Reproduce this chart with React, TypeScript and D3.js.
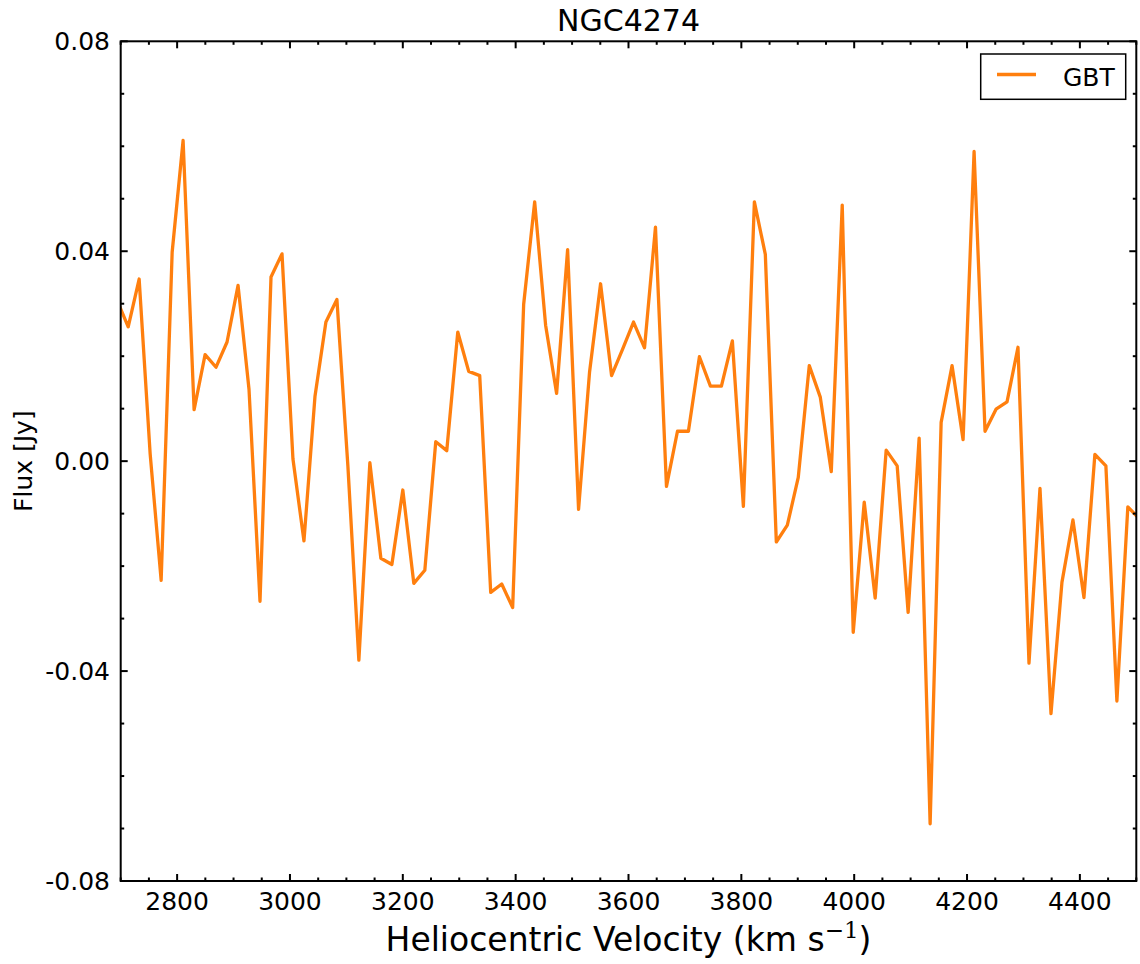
import React from "react";
import * as d3 from "d3";

const title = "NGC4274";
const seriesName = "GBT";

const velocity = [
  2693.8, 2713.3, 2732.7, 2752.2, 2771.7, 2791.2, 2810.6, 2830.1, 2849.6, 2869.0,
  2888.5, 2908.0, 2927.4, 2946.9, 2966.4, 2985.9, 3005.3, 3024.8, 3044.3, 3063.7,
  3083.2, 3102.7, 3122.1, 3141.6, 3161.1, 3180.6, 3200.0, 3219.5, 3239.0, 3258.4,
  3277.9, 3297.4, 3316.8, 3336.3, 3355.8, 3375.3, 3394.7, 3414.2, 3433.7, 3453.1,
  3472.6, 3492.1, 3511.5, 3531.0, 3550.5, 3570.0, 3589.4, 3608.9, 3628.4, 3647.8,
  3667.3, 3686.8, 3706.2, 3725.7, 3745.2, 3764.7, 3784.1, 3803.6, 3823.1, 3842.5,
  3862.0, 3881.5, 3900.9, 3920.4, 3939.9, 3959.4, 3978.8, 3998.3, 4017.8, 4037.2,
  4056.7, 4076.2, 4095.6, 4115.1, 4134.6, 4154.1, 4173.5, 4193.0, 4212.5, 4231.9,
  4251.4, 4270.9, 4290.3, 4309.8, 4329.3, 4348.8, 4368.2, 4387.7, 4407.2, 4426.6,
  4446.1, 4465.6, 4485.0, 4504.5,
];

const flux = [
  0.0306, 0.0256, 0.0347, 0.0014, -0.0227, 0.0398, 0.0611, 0.0098, 0.0203, 0.0179,
  0.0227, 0.0335, 0.0137, -0.0267, 0.0351, 0.0395, 0.0004, -0.0152, 0.0123, 0.0265,
  0.0308, -0.001, -0.0379, -0.0003, -0.0185, -0.0197, -0.0055, -0.0233, -0.0208, 0.0037,
  0.002, 0.0246, 0.0171, 0.0163, -0.025, -0.0234, -0.0279, 0.0299, 0.0494, 0.0259,
  0.0129, 0.0403, -0.0092, 0.017, 0.0338, 0.0163, 0.0213, 0.0265, 0.0216, 0.0446,
  -0.0048, 0.0057, 0.0057, 0.0199, 0.0143, 0.0143, 0.0229, -0.0086, 0.0494, 0.0394,
  -0.0154, -0.0122, -0.0031, 0.0182, 0.0122, -0.002, 0.0488, -0.0326, -0.0078, -0.0261,
  0.0021, -0.0009, -0.0288, 0.0044, -0.0691, 0.0074, 0.0182, 0.0041, 0.059, 0.0057,
  0.0099, 0.0113, 0.0217, -0.0385, -0.0052, -0.0481, -0.0231, -0.0112, -0.026, 0.0013,
  -0.0009, -0.0457, -0.0087, -0.0109,
];

const xMajorTicks = [2800, 3000, 3200, 3400, 3600, 3800, 4000, 4200, 4400];
const xMinorTicks = [
  2700, 2750, 2850, 2900, 2950, 3050, 3100, 3150, 3250, 3300, 3350, 3450, 3500, 3550,
  3650, 3700, 3750, 3850, 3900, 3950, 4050, 4100, 4150, 4250, 4300, 4350, 4450, 4500,
];
const yMajorTicks = [-0.08, -0.04, 0, 0.04, 0.08];
const yTickLabels = ["-0.08", "-0.04", "0.00", "0.04", "0.08"];
const yMinorTicks = [
  -0.07, -0.06, -0.05, -0.03, -0.02, -0.01, 0.01, 0.02, 0.03, 0.05, 0.06, 0.07,
];

const W = 1140;
const H = 964;
const L = 120.7;
const R = 1136.3;
const T = 41.3;
const B = 881;
const FONT = "DejaVu Sans, Verdana, sans-serif";
const ORANGE = "#ff7f0e";

export default function App() {
  const x = d3.scaleLinear().domain([2700, 4500]).range([L, R]);
  const y = d3.scaleLinear().domain([-0.08, 0.08]).range([B, T]);
  const pts = velocity.map((v, i) => [v, flux[i]] as [number, number]);
  const line = d3
    .line<[number, number]>()
    .x((d) => x(d[0]))
    .y((d) => y(d[1]));

  const majLen = 7;
  const minLen = 3.5;

  return (
    <svg
      width={W}
      height={H}
      style={{ position: "absolute", left: 0, top: 0, background: "#fff" }}
      fontFamily={FONT}
    >
      <defs>
        <clipPath id="plotclip">
          <rect x={L} y={T} width={R - L} height={B - T} />
        </clipPath>
      </defs>
      <rect x={0} y={0} width={W} height={H} fill="#fff" />
      <path
        d={line(pts) || ""}
        fill="none"
        stroke={ORANGE}
        strokeWidth={3.3}
        strokeLinejoin="round"
        strokeLinecap="round"
        clipPath="url(#plotclip)"
      />
      {/* ticks */}
      <g stroke="#000" strokeWidth={2}>
        {xMajorTicks.map((t) => (
          <g key={"xm" + t}>
            <line x1={x(t)} x2={x(t)} y1={B} y2={B - majLen} />
            <line x1={x(t)} x2={x(t)} y1={T} y2={T + majLen} />
          </g>
        ))}
        {xMinorTicks.map((t) => (
          <g key={"xn" + t}>
            <line x1={x(t)} x2={x(t)} y1={B} y2={B - minLen} />
            <line x1={x(t)} x2={x(t)} y1={T} y2={T + minLen} />
          </g>
        ))}
        {yMajorTicks.map((t) => (
          <g key={"ym" + t}>
            <line x1={L} x2={L + majLen} y1={y(t)} y2={y(t)} />
            <line x1={R} x2={R - majLen} y1={y(t)} y2={y(t)} />
          </g>
        ))}
        {yMinorTicks.map((t) => (
          <g key={"yn" + t}>
            <line x1={L} x2={L + minLen} y1={y(t)} y2={y(t)} />
            <line x1={R} x2={R - minLen} y1={y(t)} y2={y(t)} />
          </g>
        ))}
      </g>
      <rect
        x={L}
        y={T}
        width={R - L}
        height={B - T}
        fill="none"
        stroke="#000"
        strokeWidth={2}
      />
      {/* tick labels */}
      <g fontSize={25} fill="#000">
        {xMajorTicks.map((t) => (
          <text key={"xl" + t} x={x(t)} y={910} textAnchor="middle">
            {String(t)}
          </text>
        ))}
        {yMajorTicks.map((t, i) => (
          <text key={"yl" + t} x={110} y={y(t) + 9} textAnchor="end">
            {yTickLabels[i]}
          </text>
        ))}
      </g>
      <text x={(L + R) / 2} y={31} textAnchor="middle" fontSize={30}>
        {title}
      </text>
      <text x={(L + R) / 2} y={951} textAnchor="middle" fontSize={33}>
        Heliocentric Velocity (km s
        <tspan dy={-13} fontSize={23}>
          −
        </tspan>
        <tspan fontSize={23} fontFamily="DejaVu Serif, serif">
          1
        </tspan>
        <tspan dy={13}>)</tspan>
      </text>
      <text
        transform={`translate(31.7, ${(T + B) / 2}) rotate(-90)`}
        textAnchor="middle"
        fontSize={25}
      >
        Flux [Jy]
      </text>
      {/* legend */}
      <rect
        x={980.7}
        y={54}
        width={145}
        height={45.3}
        fill="#fff"
        stroke="#000"
        strokeWidth={1.5}
      />
      <line x1={997} x2={1036} y1={74.5} y2={74.5} stroke={ORANGE} strokeWidth={3.3} />
      <text x={1063} y={85.5} fontSize={25}>
        {seriesName}
      </text>
    </svg>
  );
}
